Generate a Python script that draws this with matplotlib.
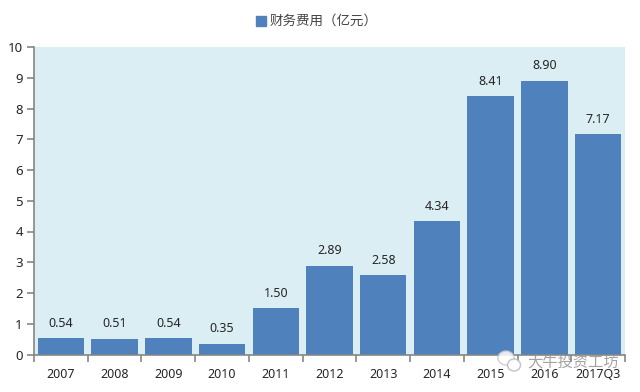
import matplotlib

matplotlib.use("Agg")

import matplotlib.pyplot as plt
from matplotlib.patches import Ellipse, Rectangle

plt.rcParams["font.family"] = ["Noto Sans CJK SC", "DejaVu Sans"]

years = ["2007", "2008", "2009", "2010", "2011", "2012", "2013", "2014", "2015", "2016", "2017Q3"]
values = [0.54, 0.51, 0.54, 0.35, 1.50, 2.89, 2.58, 4.34, 8.41, 8.90, 7.17]
value_labels = ["0.54", "0.51", "0.54", "0.35", "1.50", "2.89", "2.58", "4.34", "8.41", "8.90", "7.17"]
y_ticks = [0, 1, 2, 3, 4, 5, 6, 7, 8, 9, 10]
legend_label = "财务费用（亿元）"
watermark = "大牛投资工坊"

W, H = 640, 392
BAR = "#4f81bd"
BG = "#dbeef4"
AXIS = "#868686"
TEXT = "#262626"
NUM_FONT = ["Noto Sans", "DejaVu Sans"]

fig = plt.figure(figsize=(W / 100, H / 100), dpi=100)
ax = fig.add_axes([34 / W, 1 - 354.5 / H, 591 / W, 307.5 / H])
ax.set_facecolor(BG)

positions = list(range(len(years)))
ax.bar(positions, values, width=0.865, color=BAR)
for x, v, label in zip(positions, values, value_labels):
    ax.annotate(label, (x, v), xytext=(0, 6), textcoords="offset points",
                ha="center", va="bottom", fontsize=9, color=TEXT, family=NUM_FONT)

ax.set_xlim(-0.5, len(years) - 0.5)
ax.set_ylim(0, 10)
ax.set_yticks(y_ticks)
ax.set_xticks([p - 0.5 for p in positions] + [len(years) - 0.5])
ax.set_xticklabels([])
ax.tick_params(axis="both", length=5, width=1.2, color=AXIS, labelsize=9.5, labelcolor=TEXT)
ax.tick_params(axis="y", pad=3)
for label in ax.get_yticklabels():
    label.set_family(NUM_FONT)

for x, year in zip(positions, years):
    ax.annotate(year, (x, 0), xytext=(0, -9.5), textcoords="offset points",
                ha="center", va="top", fontsize=9, color=TEXT,
                family=NUM_FONT, annotation_clip=False)

ax.spines["top"].set_visible(False)
ax.spines["right"].set_visible(False)
ax.spines["left"].set_color(AXIS)
ax.spines["bottom"].set_color(AXIS)
ax.spines["left"].set_linewidth(1.2)
ax.spines["bottom"].set_linewidth(1.2)

# legend built by hand so the marker sits where it does in the reference
fig.add_artist(Rectangle((256 / W, 1 - 25.5 / H), 10 / W, 10 / H, color=BAR, transform=fig.transFigure))
fig.text(270 / W, 1 - 20.5 / H, legend_label, ha="left", va="center", fontsize=9.7, color="#444444")

# watermark over the lower right corner
fig.add_artist(Ellipse((506 / W, 1 - 358 / H), 16 / W, 14 / H, facecolor="white", edgecolor="#c8c8c8",
                       linewidth=1.0, alpha=0.85, transform=fig.transFigure))
fig.add_artist(Ellipse((514 / W, 1 - 365 / H), 13 / W, 12 / H, facecolor="white", edgecolor="#b8b8b8",
                       linewidth=1.0, alpha=0.85, transform=fig.transFigure))
fig.text(527 / W, 1 - 362 / H, watermark, ha="left", va="center", fontsize=11, color="#8c8c8c", alpha=0.8)

fig.savefig("out.png", dpi=100)
